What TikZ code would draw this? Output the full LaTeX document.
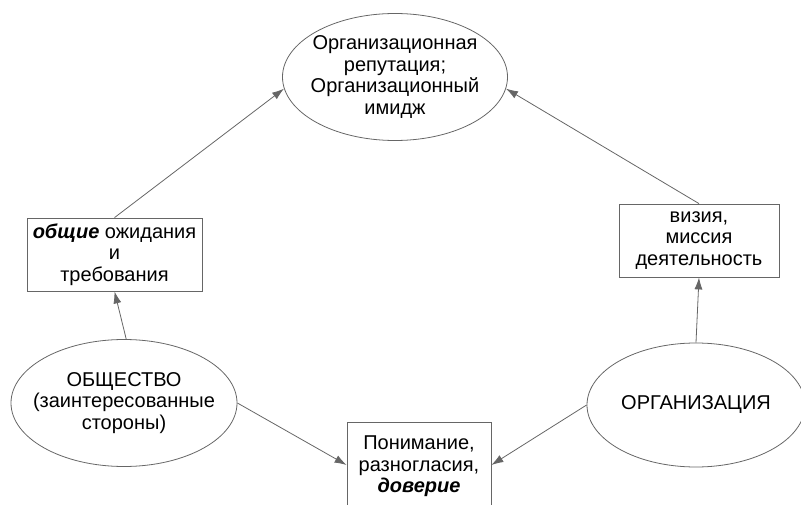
\documentclass[tikz,border=0pt]{standalone}
\usepackage{fontspec}
\setmainfont{Liberation Sans}
\usetikzlibrary{shapes.geometric, arrows.meta}

\begin{document}
\begin{tikzpicture}[
    x=1pt, y=-1pt,
    oval/.style={ellipse, draw=black!60, line width=0.8pt, align=center, inner sep=-20pt},
    box/.style={rectangle, draw=black!60, line width=0.8pt, align=center, inner sep=0pt},
    link/.style={draw=black!60, line width=0.8pt, -{Latex[length=12pt, width=8pt]}},
    font=\fontsize{20}{21.5}\selectfont
]

\useasboundingbox (0,0) rectangle (801,505);

% Ellipses
\node[oval, minimum width=225, minimum height=127] (rep) at (395,77)
    {Организационная\\репутация;\\Организационный\\имидж};
\node[oval, minimum width=226, minimum height=127] (soc) at (124,403)
    {ОБЩЕСТВО\\(заинтересованные\\стороны)};
\node[oval, minimum width=218, minimum height=124] (org) at (696,405)
    {ОРГАНИЗАЦИЯ};

% Boxes
\node[box, minimum width=175, minimum height=73] (exp) at (114.5,254.5)
    {\textbf{\textit{общие}} ожидания\\и\\требования};
\node[box, minimum width=160, minimum height=73] (vis) at (699,240.5)
    {визия,\\миссия\\деятельность};
\node[box, minimum width=144, minimum height=100, anchor=north] (und) at (419,422)
    {\rule{0pt}{27pt}Понимание,\\разногласия,\\\textbf{\textit{доверие}}\\[8pt]};

% Connectors
\draw[link] (soc.88) -- (exp.south);
\draw[link] (exp.north) -- (rep.186);
\draw[link] (org.north) -- (vis.south);
\draw[link] (vis.north) -- (rep.-6);
\draw[link] (soc.east) -- (und.west |- 0,465);
\draw[link] (org.west) -- (und.east |- 0,465);

\end{tikzpicture}
\end{document}
